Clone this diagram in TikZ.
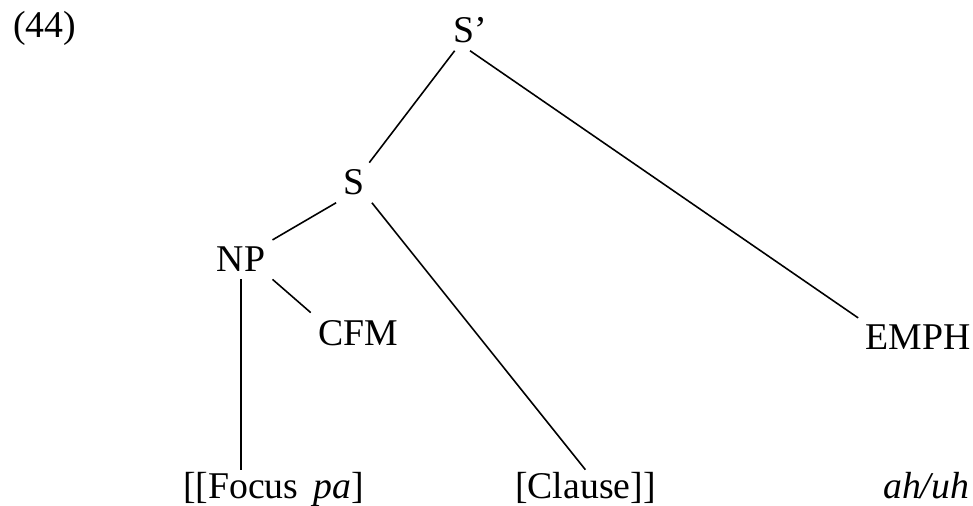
\documentclass[tikz,border=0pt]{standalone}
\usepackage{fontspec}
\setmainfont{Liberation Serif}
\usepackage{tikz}
\usetikzlibrary{positioning,calc}

\begin{document}
\begin{tikzpicture}[
			x=0.02cm,y=-0.02cm,
			cat/.style={inner sep=4pt,font=\fontsize{21.5}{26}\selectfont},
			leaf/.style={inner sep=1pt,anchor=base west,font=\fontsize{21.5}{26}\selectfont},
			branch/.style={draw=black,line width=0.9pt}
			]
			\useasboundingbox (0,0) rectangle (973,506);
			\node[cat,anchor=base west,inner sep=0pt] (num) at (13,38) {(44)};
			% categories
			\node[cat,anchor=base] (sp) at (470,43) {S’};
			\node[cat,anchor=base] (s) at (354,195) {S};
			\node[cat,anchor=base] (np) at (241,272) {NP};
			\node[cat,anchor=base] (cfm) at (358,345) {CFM};
			\node[cat,anchor=base] (emph) at (918,350) {EMPH};
			% bottom row
			\node[leaf] (focus) at (181,498) {[[Focus\hspace{0.4em}\textit{pa}]};
			\node[leaf] (clause) at (513,498) {[Clause]]};
			\node[leaf] (ahuh) at (881,498) {\textit{ah/uh}};
			\draw[branch] (sp) -- (s);
			\draw[branch] (sp.south) -- (emph.north west);
			\draw[branch] (s.south west) -- (np.north east);
			\draw[branch] (s.south east) -- (clause.north);
			\draw[branch] (np.south east) -- (cfm.north west);
			\draw[branch] (np.south) -- (np.south |- focus.north);
		\end{tikzpicture}
\end{document}
